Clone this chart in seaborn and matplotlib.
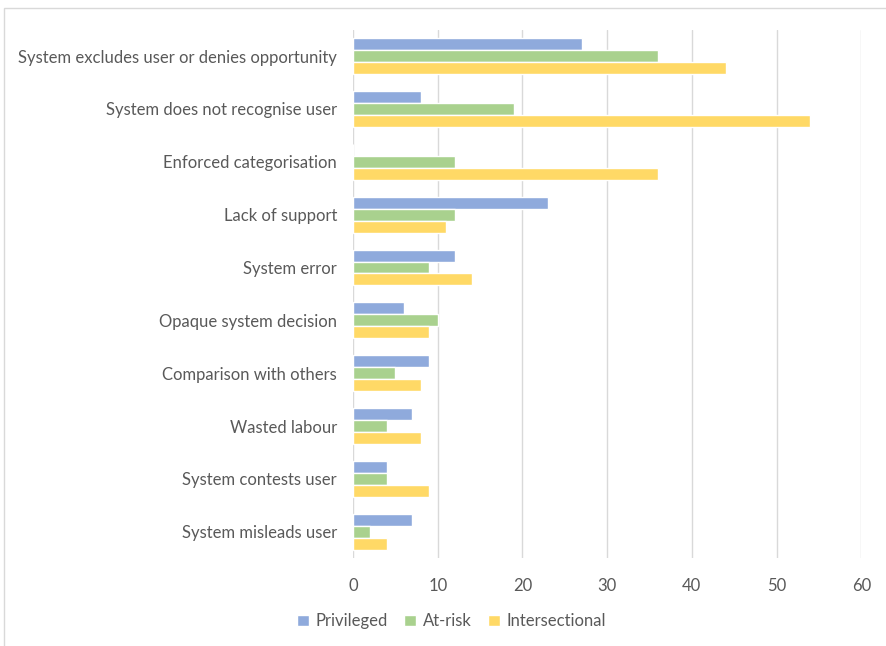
import pandas as pd
import numpy as np
import matplotlib.pyplot as plt
import seaborn as sns
from matplotlib.patches import Rectangle, Patch

categories = ['System excludes user or denies opportunity', 'System does not recognise user',
              'Enforced categorisation', 'Lack of support', 'System error',
              'Opaque system decision', 'Comparison with others', 'Wasted labour',
              'System contests user', 'System misleads user']
privileged = [27, 8, 0, 23, 12, 6, 9, 7, 4, 7]
at_risk = [36, 19, 12, 12, 9, 10, 5, 4, 4, 2]
intersectional = [44, 54, 36, 11, 14, 9, 8, 8, 9, 4]
groups = ['Privileged', 'At-risk', 'Intersectional']
colors = ['#8FAADC', '#A9D18E', '#FFD966']

df = pd.DataFrame({'category': categories * 3,
                   'value': privileged + at_risk + intersectional,
                   'group': np.repeat(groups, len(categories))})

sns.set_style('white')
plt.rcParams['font.family'] = ['Lato', 'DejaVu Sans']
txt = '#595959'

fig = plt.figure(figsize=(8.87, 6.46), dpi=100)
ax = fig.add_axes([0.398, 0.136, 0.573, 0.818])
sns.barplot(data=df, x='value', y='category', hue='group', palette=colors,
            width=0.68, orient='h', ax=ax, legend=False, saturation=1)

ax.set_xlim(0, 60)
ax.set_xticks(range(0, 61, 10))
ax.grid(axis='x', color='#D9D9D9', linewidth=1)
ax.set_axisbelow(True)
for s in ax.spines.values():
    s.set_visible(False)
ax.set_xlabel('')
ax.set_ylabel('')
ax.tick_params(axis='both', length=0, labelsize=12, colors=txt)
ax.tick_params(axis='y', pad=11.5)
ax.tick_params(axis='x', pad=14)

handles = [Patch(facecolor=c, label=g) for g, c in zip(groups, colors)]
leg = fig.legend(handles=handles, loc='center', bbox_to_anchor=(0.509, 0.038), ncol=3,
                 frameon=False, fontsize=12, handlelength=0.7, handleheight=0.7,
                 handletextpad=0.4, columnspacing=1.0)
for t in leg.get_texts():
    t.set_color(txt)

fig.patches.append(Rectangle((0.004, -0.1), 1.5, 1.088, transform=fig.transFigure,
                             fill=False, edgecolor='#D9D9D9', linewidth=1))

fig.savefig('out.png', dpi=100)
